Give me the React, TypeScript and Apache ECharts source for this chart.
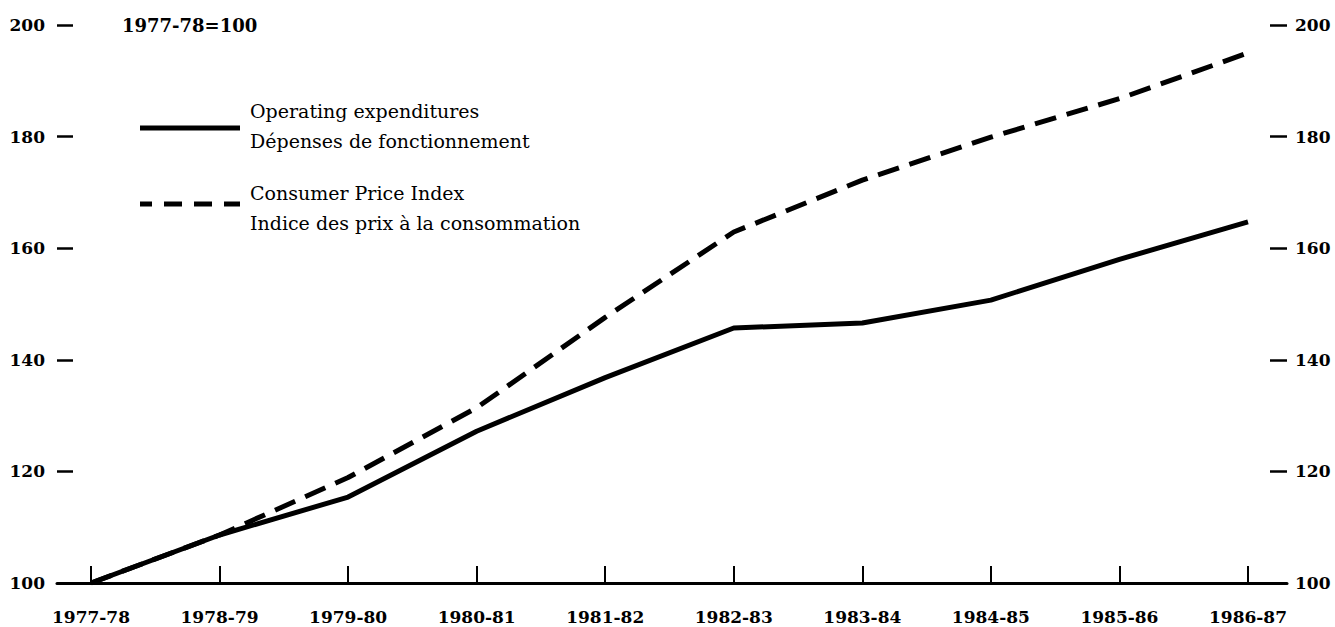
import React, { useEffect, useRef } from "react";
import * as echarts from "echarts";

const categories = [
  "1977-78", "1978-79", "1979-80", "1980-81", "1981-82",
  "1982-83", "1983-84", "1984-85", "1985-86", "1986-87",
];
const operatingExpenditures = [100, 108.6, 115.4, 127.2, 136.8, 145.7, 146.6, 150.7, 158.0, 164.7];
const consumerPriceIndex = [100, 108.6, 118.9, 131.4, 147.6, 162.9, 172.2, 179.9, 186.8, 195.0];
const yMin = 100;
const yMax = 200;
const yStep = 20;
const baseNote = "1977-78=100";
const legendOperating = ["Operating expenditures", "Dépenses de fonctionnement"];
const legendCPI = ["Consumer Price Index", "Indice des prix à la consommation"];

const FONT = "'DejaVu Serif', 'Liberation Serif', serif";

export default function App() {
  const ref = useRef<HTMLDivElement>(null);

  useEffect(() => {
    document.body.style.margin = "0";
    if (!ref.current) return;
    const chart = echarts.init(ref.current, undefined, { renderer: "svg" });
    const idx = categories.map((_, i) => i);
    const yAxisCommon = {
      type: "value",
      min: yMin,
      max: yMax,
      interval: yStep,
      splitLine: { show: false },
      axisLine: { show: false, onZero: false },
    };
    chart.setOption({
      animation: false,
      backgroundColor: "#fff",
      grid: { left: 57, right: 48, top: 25, bottom: 44, containLabel: false },
      xAxis: {
        type: "value",
        min: -0.2645,
        max: 9.3035,
        splitLine: { show: false },
        axisLine: { show: true, onZero: false, lineStyle: { color: "#000", width: 3 } },
        axisTick: {
          show: true,
          inside: true,
          length: 17,
          customValues: idx,
          lineStyle: { color: "#000", width: 2 },
        },
        axisLabel: {
          customValues: idx,
          formatter: (v: number) => categories[Math.round(v)] ?? "",
          margin: 25,
          color: "#000",
          fontFamily: FONT,
          fontWeight: "bold",
          fontSize: 17,
        },
      },
      yAxis: [
        {
          ...yAxisCommon,
          position: "left",
          axisTick: { show: true, inside: true, length: 16, lineStyle: { color: "#000", width: 2.5 } },
          axisLabel: { margin: 12, color: "#000", fontFamily: FONT, fontWeight: "bold", fontSize: 17 },
        },
        {
          ...yAxisCommon,
          position: "right",
          axisTick: { show: true, inside: true, length: 17, lineStyle: { color: "#000", width: 2.5 } },
          axisLabel: { margin: 8, color: "#000", fontFamily: FONT, fontWeight: "bold", fontSize: 17 },
        },
      ],
      series: [
        {
          name: legendCPI[0],
          type: "line",
          yAxisIndex: 0,
          symbol: "none",
          data: consumerPriceIndex.map((v, i) => [i, v]),
          lineStyle: { color: "#000", width: 5, type: [22, 11], cap: "butt" },
          z: 2,
        },
        {
          name: legendOperating[0],
          type: "line",
          yAxisIndex: 0,
          symbol: "none",
          data: operatingExpenditures.map((v, i) => [i, v]),
          lineStyle: { color: "#000", width: 5, type: "solid" },
          z: 3,
        },
      ],
      graphic: [
        {
          type: "text",
          x: 122,
          y: 25,
          style: { text: baseNote, fill: "#000", font: `bold 18px ${FONT}`, verticalAlign: "middle" },
        },
        {
          type: "line",
          shape: { x1: 140, y1: 128, x2: 240, y2: 128 },
          style: { stroke: "#000", lineWidth: 5 },
        },
        {
          type: "text",
          x: 250,
          y: 111,
          style: { text: legendOperating[0], fill: "#000", font: `19px ${FONT}`, verticalAlign: "middle" },
        },
        {
          type: "text",
          x: 250,
          y: 141,
          style: { text: legendOperating[1], fill: "#000", font: `19px ${FONT}`, verticalAlign: "middle" },
        },
        {
          type: "line",
          shape: { x1: 140, y1: 204, x2: 240, y2: 204 },
          style: { stroke: "#000", lineWidth: 5, lineDash: [18, 12], lineDashOffset: 6 },
        },
        {
          type: "text",
          x: 250,
          y: 193,
          style: { text: legendCPI[0], fill: "#000", font: `19px ${FONT}`, verticalAlign: "middle" },
        },
        {
          type: "text",
          x: 250,
          y: 223,
          style: { text: legendCPI[1], fill: "#000", font: `19px ${FONT}`, verticalAlign: "middle" },
        },
      ],
    });
    return () => chart.dispose();
  }, []);

  return <div ref={ref} style={{ width: 1335, height: 627 }} />;
}
